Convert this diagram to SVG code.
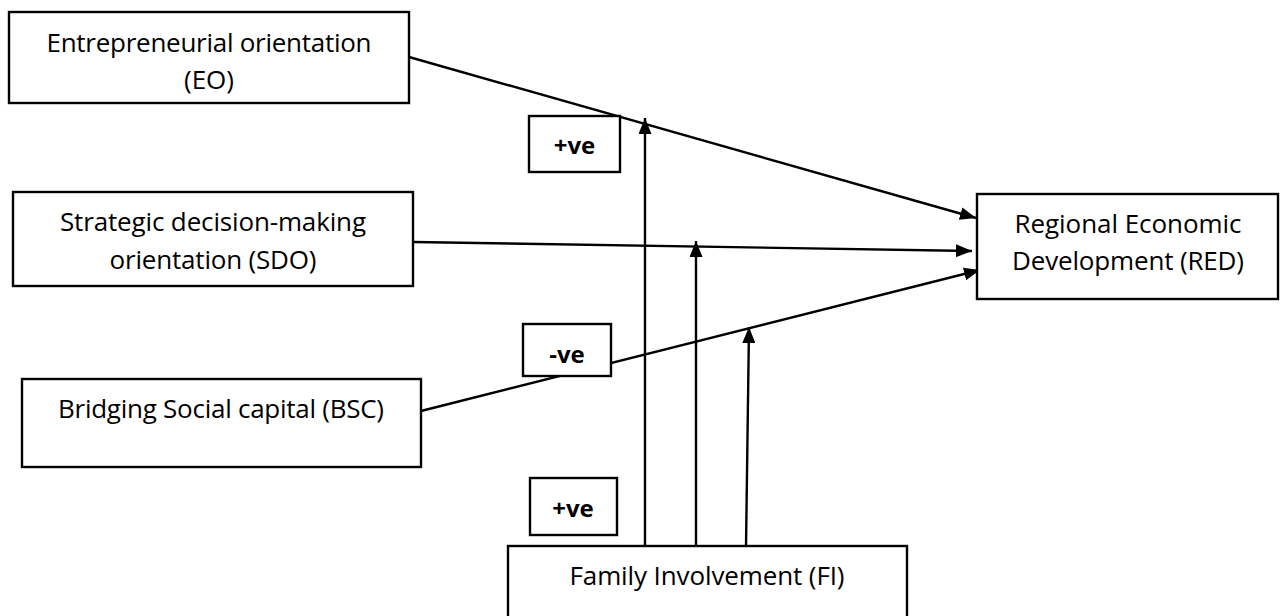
<svg xmlns="http://www.w3.org/2000/svg" width="1280" height="616" viewBox="0 0 1280 616">
<style>
.box{fill:#fff;stroke:#000;stroke-width:2.4}
.t{font-family:"Open Sans","Liberation Sans",sans-serif;font-size:26px;fill:#000;text-anchor:middle}
.b{font-family:"Open Sans","Liberation Sans",sans-serif;font-size:24px;font-weight:bold;fill:#000;text-anchor:middle}
.ln{stroke:#000;stroke-width:2.4;fill:none}
</style>
<defs>
<marker id="ah" viewBox="0 0 16 13" refX="16" refY="6.5" markerWidth="16" markerHeight="13" markerUnits="userSpaceOnUse" orient="auto">
<path d="M0,0 L16,6.5 L0,13 Z" fill="#000"/>
</marker>
</defs>
<rect width="1280" height="616" fill="#fff"/>
<g id="connectors">
<line class="ln" x1="409" y1="57" x2="976" y2="218" marker-end="url(#ah)"/>
<line class="ln" x1="413" y1="242" x2="972" y2="251" marker-end="url(#ah)"/>
<line class="ln" x1="421" y1="411" x2="980" y2="270" marker-end="url(#ah)"/>
<line class="ln" x1="645" y1="546" x2="645" y2="118" marker-end="url(#ah)"/>
<line class="ln" x1="696" y1="546" x2="696" y2="241" marker-end="url(#ah)"/>
<line class="ln" x1="746" y1="547" x2="749" y2="327" marker-end="url(#ah)"/>
</g>
<g id="EO">
<rect class="box" x="9" y="12" width="400" height="91"/>
<text class="t" x="209" y="52" textLength="325">Entrepreneurial orientation</text>
<text class="t" x="209" y="89">(EO)</text>
</g>
<g id="SDO">
<rect class="box" x="13" y="192" width="400" height="94"/>
<text class="t" x="213" y="231" textLength="306">Strategic decision-making</text>
<text class="t" x="213" y="269" textLength="207">orientation (SDO)</text>
</g>
<g id="BSC">
<rect class="box" x="22" y="379" width="399" height="88"/>
<text class="t" x="221" y="418" textLength="326">Bridging Social capital (BSC)</text>
</g>
<g id="RED">
<rect class="box" x="977" y="194" width="301" height="105"/>
<text class="t" x="1128" y="233" textLength="227">Regional Economic</text>
<text class="t" x="1128" y="270" textLength="232">Development (RED)</text>
</g>
<g id="FI">
<rect class="box" x="508" y="546" width="399" height="80"/>
<text class="t" x="707" y="585" textLength="275">Family Involvement (FI)</text>
</g>
<g id="label-pos-top">
<rect class="box" x="529" y="116" width="91" height="56"/>
<text class="b" x="574.5" y="154">+ve</text>
</g>
<g id="label-neg">
<rect class="box" x="523" y="324" width="88" height="52"/>
<text class="b" x="567" y="363">-ve</text>
</g>
<g id="label-pos-bottom">
<rect class="box" x="530" y="478" width="87" height="57"/>
<text class="b" x="573" y="517">+ve</text>
</g>
</svg>
